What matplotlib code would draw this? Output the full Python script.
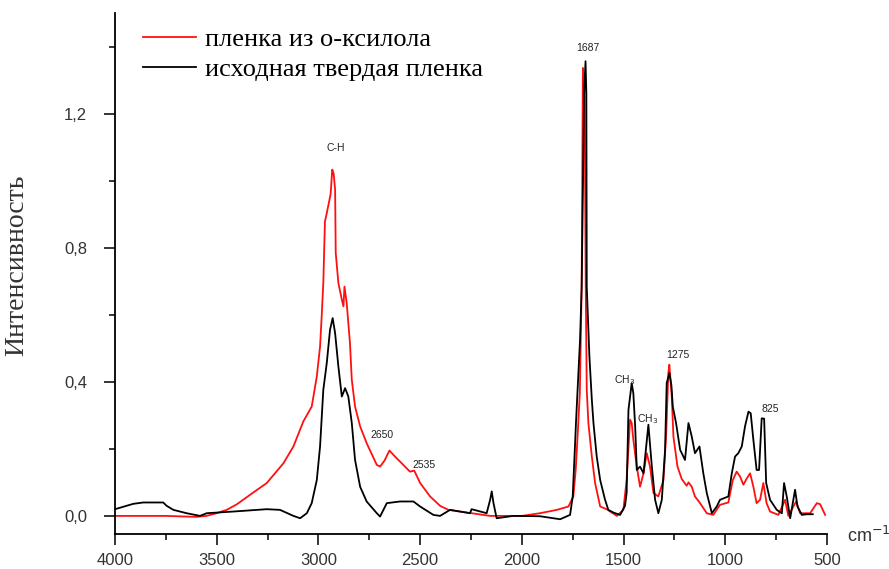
import matplotlib
matplotlib.use("Agg")
import matplotlib.pyplot as plt
from matplotlib.ticker import MultipleLocator, FuncFormatter

# ИК-спектры: плёнка из о-ксилола (красная) и исходная твёрдая плёнка (чёрная)
red_wn = [4000, 3750, 3600, 3550, 3500, 3451, 3400, 3336, 3254, 3172, 3123, 3074,
          3033, 3008, 2992, 2984, 2976, 2968, 2960, 2950, 2940, 2932, 2925, 2918,
          2915, 2902, 2885, 2877, 2872, 2861, 2853, 2845, 2836, 2820, 2795, 2763,
          2713, 2697, 2675, 2651, 2625, 2599, 2550, 2529, 2500, 2451, 2402, 2361,
          2304, 2156, 2000, 1911, 1828, 1771, 1747, 1735, 1725, 1715, 1706, 1700,
          1692, 1686, 1681, 1673, 1656, 1640, 1615, 1583, 1533, 1501, 1485, 1468,
          1460, 1452, 1435, 1419, 1402, 1386, 1370, 1353, 1329, 1304, 1291, 1280,
          1275, 1263, 1255, 1235, 1214, 1190, 1181, 1165, 1149, 1124, 1091, 1059,
          1026, 985, 963, 944, 927, 911, 894, 878, 862, 846, 829, 813, 797, 780,
          739, 706, 690, 652, 632, 583, 550, 534, 509]
red_int = [0.0, 0.0, -0.003, 0.0, 0.008, 0.018, 0.035, 0.063, 0.098, 0.157, 0.207, 0.282,
           0.326, 0.416, 0.505, 0.595, 0.695, 0.878, 0.90, 0.93, 0.96, 1.033, 1.02, 0.973,
           0.785, 0.695, 0.645, 0.625, 0.684, 0.635, 0.575, 0.516, 0.406, 0.326, 0.267, 0.217,
           0.152, 0.147, 0.165, 0.195, 0.178, 0.162, 0.132, 0.135, 0.098, 0.058, 0.030, 0.018,
           0.013, 0.0, 0.0, 0.008, 0.018, 0.028, 0.058, 0.14, 0.25, 0.367, 0.684, 1.336,
           1.30, 0.684, 0.376, 0.277, 0.177, 0.098, 0.028, 0.02, 0.0, 0.018, 0.107, 0.287,
           0.277, 0.227, 0.147, 0.087, 0.127, 0.187, 0.147, 0.068, 0.058, 0.107, 0.237, 0.426,
           0.451, 0.356, 0.237, 0.147, 0.11, 0.09, 0.10, 0.087, 0.058, 0.038, 0.008, 0.003,
           0.033, 0.04, 0.107, 0.132, 0.117, 0.093, 0.112, 0.127, 0.087, 0.038, 0.048, 0.098,
           0.038, 0.013, 0.003, 0.048, 0.0, 0.043, 0.008, 0.008, 0.038, 0.035, 0.003]

black_wn = [4000, 3910, 3861, 3763, 3746, 3713, 3648, 3582, 3549, 3418, 3254, 3189,
            3123, 3090, 3057, 3033, 3008, 2992, 2976, 2959, 2943, 2930, 2918, 2902,
            2885, 2869, 2853, 2836, 2820, 2795, 2763, 2713, 2697, 2664, 2599, 2533,
            2500, 2435, 2402, 2353, 2255, 2247, 2173, 2156, 2148, 2140, 2124, 2042,
            1911, 1812, 1763, 1750, 1739, 1734, 1722, 1714, 1706, 1694, 1687, 1683,
            1681, 1668, 1656, 1648, 1632, 1615, 1591, 1575, 1550, 1517, 1493, 1485,
            1476, 1460, 1452, 1443, 1435, 1419, 1402, 1378, 1361, 1345, 1329, 1312,
            1296, 1288, 1275, 1265, 1258, 1242, 1222, 1198, 1181, 1165, 1149, 1127,
            1108, 1091, 1066, 1042, 1026, 985, 968, 952, 936, 919, 903, 886, 875,
            862, 846, 834, 821, 809, 799, 780, 747, 722, 711, 698, 681, 657, 645,
            624, 599, 570]
black_int = [0.02, 0.036, 0.04, 0.04, 0.03, 0.018, 0.008, 0.0, 0.008, 0.013, 0.02, 0.018,
             0.0, -0.007, 0.008, 0.038, 0.107, 0.207, 0.376, 0.456, 0.555, 0.59, 0.545, 0.446,
             0.356, 0.381, 0.356, 0.277, 0.167, 0.087, 0.043, 0.008, -0.002, 0.038, 0.043, 0.043,
             0.028, 0.003, 0.0, 0.018, 0.008, 0.02, 0.008, 0.048, 0.073, 0.04, -0.007, 0.0,
             -0.001, -0.01, 0.003, 0.058, 0.207, 0.277, 0.426, 0.525, 0.684, 1.26, 1.356, 1.26,
             0.684, 0.476, 0.346, 0.277, 0.177, 0.107, 0.048, 0.018, 0.01, 0.003, 0.03, 0.068,
             0.316, 0.396, 0.366, 0.267, 0.137, 0.147, 0.127, 0.272, 0.147, 0.048, 0.008, 0.048,
             0.197, 0.396, 0.426, 0.39, 0.326, 0.277, 0.197, 0.167, 0.277, 0.237, 0.187, 0.207,
             0.127, 0.068, 0.008, 0.028, 0.048, 0.058, 0.127, 0.177, 0.187, 0.207, 0.267, 0.311, 0.306,
             0.227, 0.137, 0.137, 0.291, 0.29, 0.098, 0.048, 0.018, 0.008, 0.098, 0.058, -0.007, 0.078, 0.028,
             0.003, 0.005, 0.005]

# подписи полос: текст, волновое число, интенсивность
band_labels = ["C-H", "1687", "2650", "2535", "CH$_3$", "CH$_3$", "1275", "825"]
band_wn = [2913, 1674, 2687, 2481, 1497, 1380, 1232, 780]
band_int = [1.098, 1.397, 0.24, 0.152, 0.406, 0.289, 0.481, 0.319]

legend_labels = ["пленка из о-ксилола", "исходная твердая пленка"]

fig = plt.figure(figsize=(8.89, 5.69), dpi=100)
ax = fig.add_axes([115 / 889, 1 - 534 / 569, 712 / 889, 521 / 569])

ax.plot(red_wn, red_int, color="#ff1010", lw=1.3, label=legend_labels[0])
ax.plot(black_wn, black_int, color="black", lw=1.3, label=legend_labels[1])

for txt, x, y in zip(band_labels, band_wn, band_int):
    ax.text(x, y, txt, fontsize=7.5, ha="center", va="center", color="#222222",
            family="Liberation Sans")

ax.set_xlim(4000, 500)
ax.set_ylim(-0.054, 1.5)

for s in ["top", "right"]:
    ax.spines[s].set_visible(False)
for s in ["left", "bottom"]:
    ax.spines[s].set_linewidth(1.3)

ax.xaxis.set_major_locator(MultipleLocator(500))
ax.xaxis.set_minor_locator(MultipleLocator(250))
ax.yaxis.set_major_locator(MultipleLocator(0.4))
ax.yaxis.set_minor_locator(MultipleLocator(0.2))
ax.yaxis.set_major_formatter(FuncFormatter(lambda v, p: f"{v:.1f}".replace(".", ",").replace("-0,0", "0,0")))

ax.tick_params(which="major", direction="out", length=8, width=1.1, labelsize=12,
               labelcolor="#333333")
ax.tick_params(which="minor", direction="out", length=4.5, width=1.1)
ax.tick_params(axis="y", pad=12)
ax.tick_params(axis="x", pad=6)
for lab in ax.get_xticklabels() + ax.get_yticklabels():
    lab.set_family("Liberation Sans")

# подпись оси Y — отдельным текстом, чтобы не вылезала за край
fig.text(17 / 889, 1 - 265 / 569, "Интенсивность", family="Liberation Serif",
         fontsize=20, color="#333333", rotation=90, ha="center", va="center")

fig.text(847 / 889, 1 - 536 / 569, "cm$^{-1}$", fontsize=13, color="#333333",
         family="Liberation Sans", va="center", ha="left")

ax.legend(loc="upper left", bbox_to_anchor=(0.039, 0.972), frameon=False,
          prop={"family": "Liberation Serif", "size": 19}, handlelength=2.0,
          handletextpad=0.35, labelspacing=0.25, borderpad=0, borderaxespad=0)

fig.savefig("out.png", dpi=100)
